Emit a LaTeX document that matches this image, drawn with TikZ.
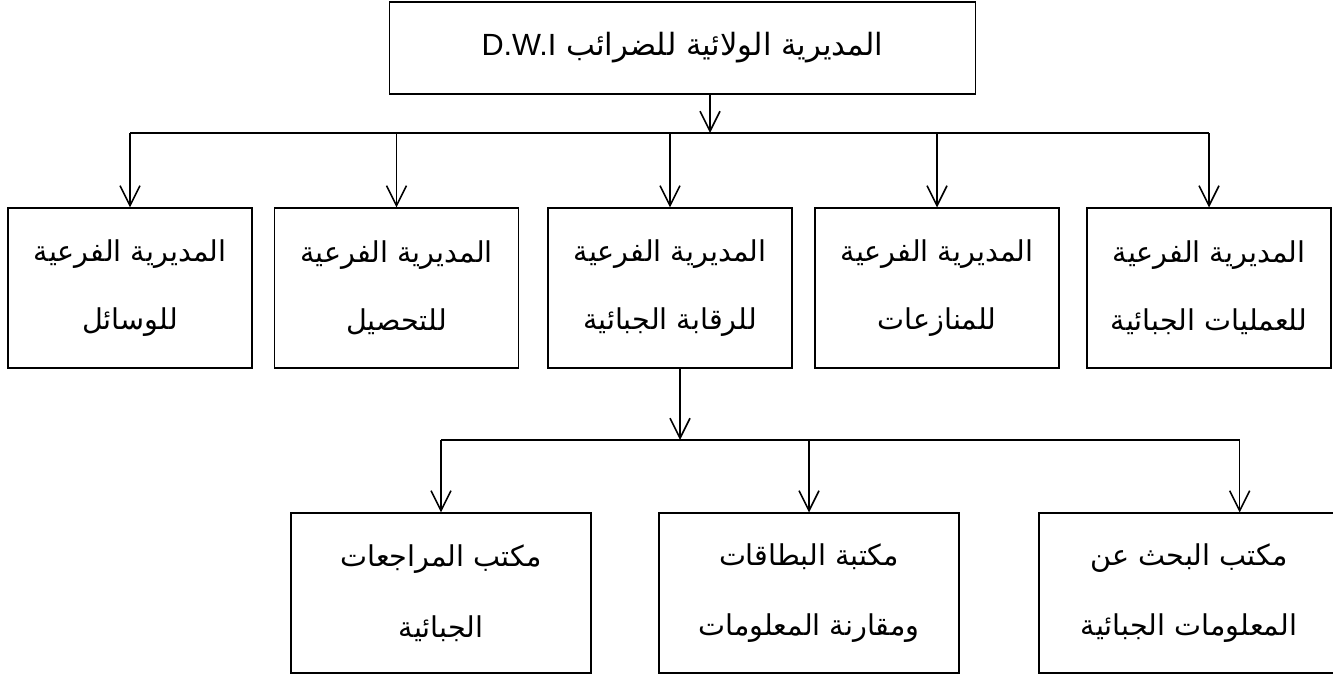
\documentclass[tikz,border=0pt]{standalone}
\usepackage{fontspec}
\setmainfont{Liberation Sans}
\newfontfamily\arabicfont[Script=Arabic]{DejaVu Sans}
\TeXXeTstate=1
\usetikzlibrary{arrows.meta}
\tikzset{
	unit/.style = {draw=black, line width=0.8pt, rectangle, inner sep=0pt,
		align=center, font=\arabicfont\fontsize{21.5}{51}\selectfont},% cadre commun
	topunit/.style = {unit, minimum width=440pt, minimum height=69pt,
		font=\arabicfont\fontsize{23}{51}\selectfont},% direction de wilaya
	subdir/.style = {unit, minimum width=183pt, minimum height=120pt},% sous-directions
	office/.style = {unit, minimum width=225pt, minimum height=120pt,
		font=\arabicfont\fontsize{21.5}{53}\selectfont},% bureaux
	bar/.style = {line width=1.2pt},
	link/.style = {bar, -{Straight Barb[length=15pt,width=15pt]}}
}

\begin{document}
\begin{tikzpicture}[x=0.75pt, y=-0.75pt]
	\useasboundingbox (0,0) rectangle (1333,676);
	\node [topunit] (top) at (682.5,48) {\beginR المديرية الولائية للضرائب {\normalfont\beginL D.W.I\endL}\endR};

	\node [subdir] (r1) at (130,288) {\beginR المديرية الفرعية\endR\\\beginR للوسائل\endR};
	\node [subdir] (r2) at (396.5,288) {\beginR المديرية الفرعية\endR\\\beginR للتحصيل\endR};
	\node [subdir] (r3) at (670,288) {\beginR المديرية الفرعية\endR\\\beginR للرقابة الجبائية\endR};
	\node [subdir] (r4) at (937,288) {\beginR المديرية الفرعية\endR\\\beginR للمنازعات\endR};
	\node [subdir] (r5) at (1209,288) {\beginR المديرية الفرعية\endR\\\beginR للعمليات الجبائية\endR};

	\node [office] (b1) at (441,593) {\beginR مكتب المراجعات\endR\\\beginR الجبائية\endR};
	\node [office] (b2) at (809,593) {\beginR مكتبة البطاقات\endR\\\beginR ومقارنة المعلومات\endR};
	\node [office] (b3) at (1189,593) {\beginR مكتب البحث عن\endR\\\beginR المعلومات الجبائية\endR};

	\coordinate (j1) at (710,133);
	\coordinate (j2) at (680,440);
	\coordinate (c3) at ([xshift=38pt]b3.north);

	\draw [link] (top.south -| j1) -- (j1);
	\draw [bar] (r1.north |- j1) -- (r5.north |- j1);
	\draw [link] (r1.north |- j1) -- (r1.north);
	\draw [link] (r2.north |- j1) -- (r2.north);
	\draw [link] (r3.north |- j1) -- (r3.north);
	\draw [link] (r4.north |- j1) -- (r4.north);
	\draw [link] (r5.north |- j1) -- (r5.north);

	\draw [link] (r3.south -| j2) -- (j2);
	\draw [bar] (b1.north |- j2) -- (c3 |- j2);
	\draw [link] (b1.north |- j2) -- (b1.north);
	\draw [link] (b2.north |- j2) -- (b2.north);
	\draw [link] (c3 |- j2) -- (c3);
\end{tikzpicture}
\end{document}
